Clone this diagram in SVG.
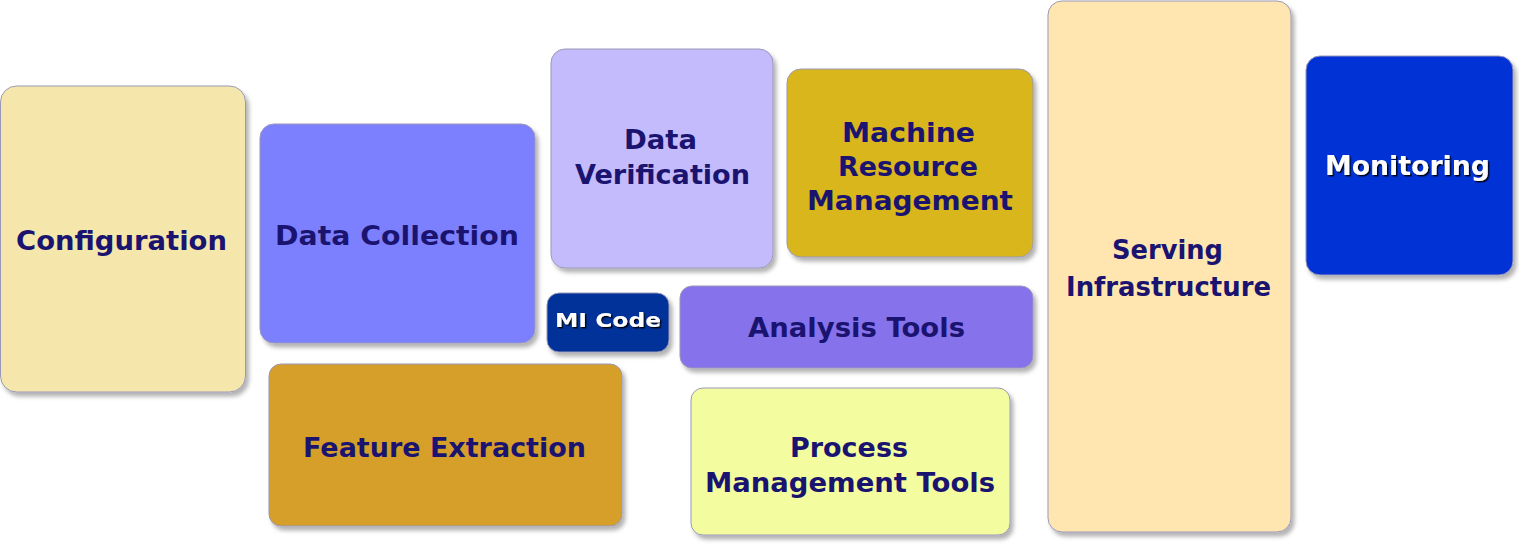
<svg xmlns="http://www.w3.org/2000/svg" width="1519" height="545" viewBox="0 0 1519 545">
<defs>
<filter id="sh" x="-10%" y="-10%" width="125%" height="125%">
<feDropShadow dx="3" dy="4" stdDeviation="2" flood-color="#000" flood-opacity="0.3"/>
</filter>
<filter id="tsh" x="-10%" y="-30%" width="125%" height="160%">
<feDropShadow dx="1.5" dy="1.5" stdDeviation="0.3" flood-color="#000" flood-opacity="0.9"/>
</filter>
</defs>
<style>
.b{stroke:#9a98b8;stroke-width:1;filter:url(#sh)}
.t{font-family:"DejaVu Sans","Liberation Sans",sans-serif;font-weight:bold;font-size:26px;fill:#1a1470;text-anchor:middle}
.w{fill:#ffffff;filter:url(#tsh)}
.s{font-size:20px}
</style>
<rect width="1519" height="545" fill="#ffffff"/>
<g id="configuration">
<rect class="b" x="0.5" y="86" width="245" height="306" rx="16" fill="#f5e7ac"/>
<text class="t" x="121.5" y="250" textLength="211" lengthAdjust="spacingAndGlyphs">Configuration</text>
</g>
<g id="data-collection">
<rect class="b" x="260" y="124" width="275" height="219" rx="14" fill="#7b80ff"/>
<text class="t" x="397" y="245" textLength="244" lengthAdjust="spacingAndGlyphs">Data Collection</text>
</g>
<g id="data-verification">
<rect class="b" x="551" y="49" width="222" height="219" rx="14" fill="#c4bbfc"/>
<text class="t" x="660.5" y="149" textLength="73" lengthAdjust="spacingAndGlyphs">Data</text>
<text class="t" x="662.5" y="184" textLength="175" lengthAdjust="spacingAndGlyphs">Verification</text>
</g>
<g id="machine-resource-management">
<rect class="b" x="787" y="69" width="246" height="188" rx="14" fill="#d8b61f"/>
<text class="t" x="908.5" y="142" textLength="133" lengthAdjust="spacingAndGlyphs">Machine</text>
<text class="t" x="908" y="176" textLength="140" lengthAdjust="spacingAndGlyphs">Resource</text>
<text class="t" x="910" y="210" textLength="206" lengthAdjust="spacingAndGlyphs">Management</text>
</g>
<g id="serving-infrastructure">
<rect class="b" x="1048" y="1" width="243" height="531" rx="14" fill="#ffe6b0"/>
<text class="t" x="1167.5" y="259" textLength="111" lengthAdjust="spacingAndGlyphs">Serving</text>
<text class="t" x="1168.5" y="296" textLength="205" lengthAdjust="spacingAndGlyphs">Infrastructure</text>
</g>
<g id="monitoring">
<rect class="b" x="1306" y="56" width="207" height="219" rx="14" fill="#0433d6"/>
<text class="t w" x="1407.5" y="175" textLength="165" lengthAdjust="spacingAndGlyphs">Monitoring</text>
</g>
<g id="ml-code">
<rect class="b" x="547" y="293" width="122" height="59" rx="12" fill="#06309a"/>
<text class="t w s" x="608" y="327" textLength="106" lengthAdjust="spacingAndGlyphs">MI Code</text>
</g>
<g id="analysis-tools">
<rect class="b" x="680" y="286" width="353" height="82" rx="12" fill="#8673eb"/>
<text class="t" x="856.5" y="337" textLength="217" lengthAdjust="spacingAndGlyphs">Analysis Tools</text>
</g>
<g id="feature-extraction">
<rect class="b" x="269" y="364" width="353" height="162" rx="12" fill="#d69f2c"/>
<text class="t" x="444.5" y="457" textLength="283" lengthAdjust="spacingAndGlyphs">Feature Extraction</text>
</g>
<g id="process-management-tools">
<rect class="b" x="691" y="388" width="319" height="147" rx="12" fill="#f3fd9f"/>
<text class="t" x="849" y="457" textLength="118" lengthAdjust="spacingAndGlyphs">Process</text>
<text class="t" x="850" y="492" textLength="290" lengthAdjust="spacingAndGlyphs">Management Tools</text>
</g>
<g id="connectors"></g>
</svg>
